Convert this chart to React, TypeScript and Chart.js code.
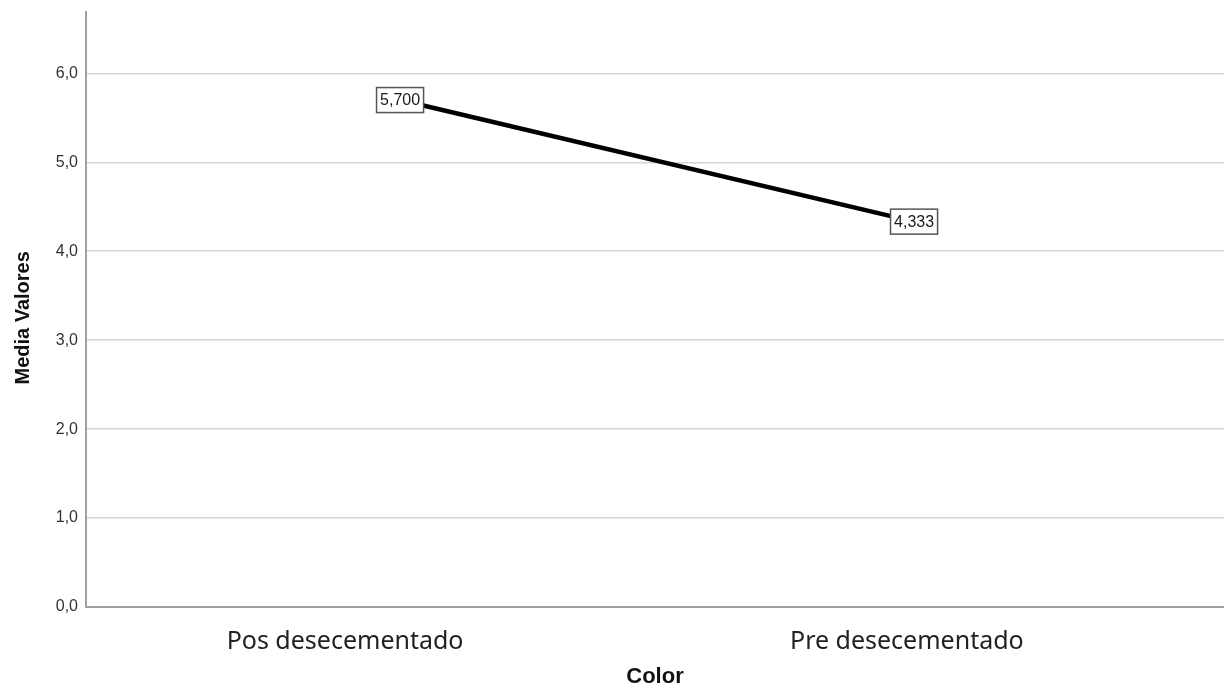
import React, { useEffect, useRef } from "react";
import { Chart, registerables } from "chart.js";

Chart.register(...registerables);

const categories = ["Pos desecementado", "Pre desecementado"];
const meanValues = [5.7, 4.333];
const valueLabels = ["5,700", "4,333"];
const yTicks = [0, 1, 2, 3, 4, 5, 6];
const yAxisTitle = "Media Valores   ";
const xAxisTitle = "Color";

const labelBoxPlugin = {
  id: "labelBoxes",
  afterDatasetsDraw(chart: any) {
    const ctx = chart.ctx;
    const meta = chart.getDatasetMeta(0);
    ctx.save();
    ctx.font = "16px 'Liberation Sans', Arial, sans-serif";
    ctx.textAlign = "center";
    ctx.textBaseline = "middle";
    meta.data.forEach((pt: any, i: number) => {
      const text = valueLabels[i];
      const w = ctx.measureText(text).width + 7;
      const h = 25;
      ctx.fillStyle = "#ffffff";
      ctx.fillRect(pt.x - w / 2, pt.y - h / 2, w, h);
      ctx.lineWidth = 1.5;
      ctx.strokeStyle = "#555555";
      ctx.strokeRect(pt.x - w / 2, pt.y - h / 2, w, h);
      ctx.fillStyle = "#1a1a1a";
      ctx.fillText(text, pt.x, pt.y + 1);
    });
    ctx.restore();
  },
};

export default function App() {
  const canvasRef = useRef<HTMLCanvasElement | null>(null);

  useEffect(() => {
    document.body.style.margin = "0";
    const canvas = canvasRef.current;
    if (!canvas) return;
    const chart = new Chart(canvas, {
      type: "line",
      data: {
        datasets: [
          {
            data: meanValues.map((v, i) => ({ x: i, y: v })),
            borderColor: "#000000",
            borderWidth: 4.5,
            pointRadius: 0,
            fill: false,
            tension: 0,
          },
        ],
      },
      options: {
        responsive: false,
        animation: false,
        layout: { padding: { top: 12, left: 0, right: 0, bottom: 0 } },
        plugins: {
          legend: { display: false },
          tooltip: { enabled: false },
        },
        scales: {
          x: {
            type: "linear",
            min: -0.611,
            max: 1.603,
            afterBuildTicks: (scale: any) => {
              scale.ticks = [{ value: -0.107 }, { value: 0.986 }];
            },
            afterFit: (scale: any) => {
              scale.height = 83;
              scale.paddingLeft = 0;
              scale.paddingRight = 0;
            },
            grid: { display: false, drawTicks: false },
            border: { display: true, color: "#a0a0a0", width: 2 },
            ticks: {
              autoSkip: false,
              maxRotation: 0,
              padding: 20,
              color: "#222222",
              font: { family: "'Noto Sans'", size: 25 },
              callback: (_v: any, i: number) => categories[i],
            },
            title: {
              display: true,
              text: xAxisTitle,
              color: "#111111",
              font: { family: "'Liberation Sans', Arial", size: 22, weight: "bold" },
              padding: { top: 0, bottom: 0 },
            },
          },
          y: {
            min: 0,
            max: 6.69,
            afterBuildTicks: (scale: any) => {
              scale.ticks = yTicks.map((v) => ({ value: v }));
            },
            afterFit: (scale: any) => {
              scale.width = 86;
              scale.paddingTop = 0;
              scale.paddingBottom = 0;
            },
            grid: { color: "#d4d4d4", lineWidth: 1.5, drawTicks: false },
            border: { display: true, color: "#a0a0a0", width: 2 },
            ticks: {
              padding: 8,
              color: "#333333",
              font: { family: "'Liberation Sans', Arial", size: 16 },
              callback: (v: any) => Number(v).toFixed(1).replace(".", ","),
            },
            title: {
              display: true,
              text: yAxisTitle,
              color: "#111111",
              font: { family: "'Liberation Sans', Arial", size: 20, weight: "bold" },
              padding: { top: 11, bottom: 0 },
            },
          },
        },
      },
      plugins: [labelBoxPlugin],
    } as any);
    return () => chart.destroy();
  }, []);

  return (
    <div style={{ position: "fixed", left: 0, top: 0, width: 1224, height: 690, background: "#fff" }}>
      <canvas ref={canvasRef} width={1224} height={690} />
    </div>
  );
}
